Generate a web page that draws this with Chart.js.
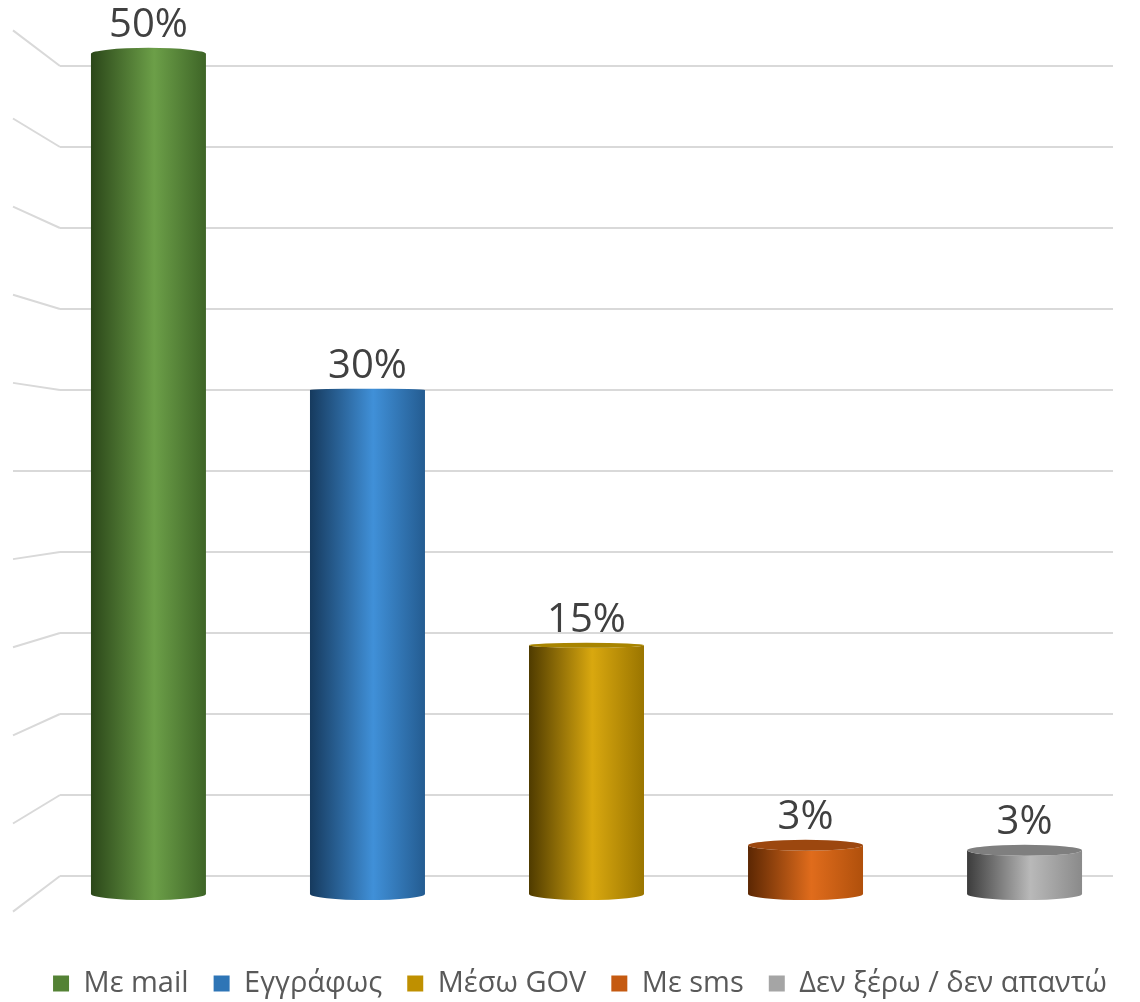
<!DOCTYPE html>
<html>
<head>
<meta charset="utf-8">
<script src="https://cdn.jsdelivr.net/npm/chart.js@4.4.1/dist/chart.umd.min.js"></script>
<style>
  html, body { margin: 0; padding: 0; background: #fff; }
  #wrap { width: 1140px; height: 1002px; }
</style>
</head>
<body>
<div id="wrap"><canvas id="chart" width="1140" height="1002"></canvas></div>
<script>
// Survey answers - one series per answer, like the original 3D cylinder chart
const categories = ['Με mail', 'Εγγράφως', 'Μέσω GOV', 'Με sms', 'Δεν ξέρω / δεν απαντώ'];
const values = [50, 30, 14.8, 2.9, 2.6];
const gridTicks = [0, 5, 10, 15, 20, 25, 30, 35, 40, 45, 50];

const legendColors = ['#548235', '#2e75b6', '#bf9000', '#c55a11', '#a5a5a5'];
// side shading: left edge, highlight, right edge
const sideShades = [
    ['#2b4719', '#6c9f48', '#3e6527'],
    ['#163a5e', '#4090d8', '#245c91'],
    ['#4f3b00', '#d9a80f', '#9a7500'],
    ['#5c2703', '#e06c1c', '#b0500c'],
    ['#3c3c3c', '#b9b9b9', '#8a8a8a']
];
const topShades = ['#4d7a31', '#2c68a4', '#a88400', '#9c470f', '#7f7f7f'];

const FONT = "'Open Sans', 'Noto Sans', sans-serif";
const GRID = '#d9d9d9';

const cylinderPlugin = {
    id: 'cylinders',
    beforeDatasetsDraw(chart) {
        // perspective "floor/wall" lines on the left side
        const { ctx, chartArea, scales } = chart;
        const horizon = scales.y.getPixelForValue(25);
        ctx.save();
        ctx.strokeStyle = GRID;
        ctx.lineWidth = 2;
        gridTicks.forEach(t => {
            const py = scales.y.getPixelForValue(t);
            ctx.beginPath();
            ctx.moveTo(chartArea.left, py);
            ctx.lineTo(13, horizon + 1.088 * (py - horizon));
            ctx.stroke();
        });
        ctx.restore();
    },
    beforeDatasetDraw() {
        return false; // bars are painted as cylinders below
    },
    afterDatasetsDraw(chart) {
        const { ctx, scales } = chart;
        const horizon = scales.y.getPixelForValue(25);
        const yb = scales.yBar;
        const base = yb.getPixelForValue(0);

        chart.data.datasets.forEach((ds, i) => {
            const meta = chart.getDatasetMeta(i);
            if (meta.hidden) return;
            const el = meta.data[0];
            const cx = el.x;
            const rx = el.width / 2;
            const top = yb.getPixelForValue(ds.data[0]);
            const ryB = Math.max(1.5, (base - horizon) * 0.0145);
            const ryT = Math.max(1.2, Math.abs(top - horizon) * 0.0145);
            const sh = sideShades[i];

            const grad = ctx.createLinearGradient(cx - rx, 0, cx + rx, 0);
            grad.addColorStop(0, sh[0]);
            grad.addColorStop(0.55, sh[1]);
            grad.addColorStop(1, sh[2]);

            ctx.save();
            ctx.beginPath();
            ctx.moveTo(cx - rx, top);
            ctx.lineTo(cx - rx, base);
            ctx.ellipse(cx, base, rx, ryB, 0, Math.PI, 0, true);
            ctx.lineTo(cx + rx, top);
            if (top < horizon) {
                ctx.ellipse(cx, top, rx, ryT, 0, 0, Math.PI, true);
            } else {
                ctx.ellipse(cx, top, rx, ryT, 0, 0, Math.PI, false);
            }
            ctx.closePath();
            ctx.fillStyle = grad;
            ctx.fill();

            if (top >= horizon) {
                ctx.beginPath();
                ctx.ellipse(cx, top, rx, ryT, 0, 0, Math.PI * 2);
                ctx.fillStyle = topShades[i];
                ctx.fill();
            }
            ctx.restore();

            // value label
            ctx.save();
            ctx.font = `40px ${FONT}`;
            ctx.fillStyle = '#404040';
            ctx.textAlign = 'center';
            ctx.textBaseline = 'alphabetic';
            ctx.fillText(Math.round(ds.data[0]) + '%', cx, top - ryT - 11);
            ctx.restore();
        });
    }
};

const ctx = document.getElementById('chart').getContext('2d');
new Chart(ctx, {
    type: 'bar',
    data: {
        labels: [''],
        datasets: categories.map((c, i) => ({
            label: c,
            data: [values[i]],
            backgroundColor: legendColors[i],
            yAxisID: 'yBar',
            categoryPercentage: 1.04,
            barPercentage: 0.525
        }))
    },
    options: {
        responsive: false,
        animation: false,
        layout: { padding: { top: 66, left: 20, right: 0, bottom: -6 } },
        plugins: {
            legend: {
                position: 'bottom',
                labels: {
                    boxWidth: 16,
                    boxHeight: 16,
                    padding: 25,
                    color: '#595959',
                    font: { family: FONT, size: 29 }
                }
            },
            tooltip: { enabled: false }
        },
        scales: {
            x: {
                grid: { display: false },
                border: { display: false },
                ticks: { display: false },
                afterFit: (s) => { s.height = 68; }
            },
            y: {
                min: 0,
                max: 50,
                ticks: { display: false, stepSize: 5 },
                border: { display: false },
                grid: { color: GRID, lineWidth: 2, drawTicks: false },
                afterFit: (s) => { s.width = 40; }
            },
            yBar: {
                position: 'right',
                min: 1.07,
                max: 49.28,
                ticks: { display: false },
                border: { display: false },
                grid: { display: false },
                afterFit: (s) => { s.width = 27; }
            }
        }
    },
    plugins: [cylinderPlugin]
});
</script>
</body>
</html>
